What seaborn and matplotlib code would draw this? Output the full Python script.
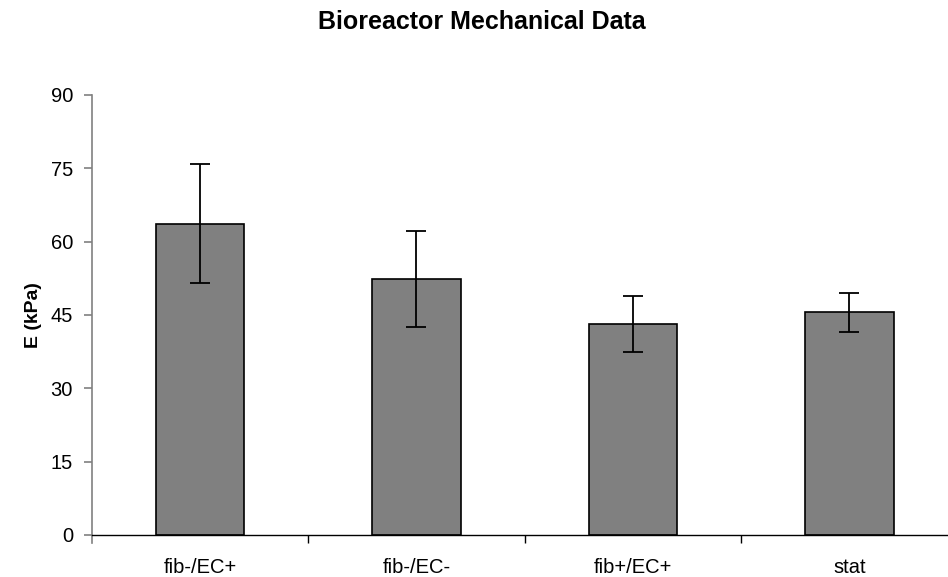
import matplotlib
matplotlib.use("Agg")
import matplotlib.pyplot as plt
import seaborn as sns
import pandas as pd
from matplotlib.ticker import FixedLocator

categories = ["fib-/EC+", "fib-/EC-", "fib+/EC+", "stat"]
means = [63.7, 52.4, 43.2, 45.6]
errors = [12.2, 9.8, 5.7, 4.0]
yticks = [0, 15, 30, 45, 60, 75, 90]

sns.set_theme(style="white")
plt.rcParams['font.family'] = ['Liberation Sans', 'DejaVu Sans']
plt.rcParams['text.color'] = 'black'

df = pd.DataFrame({"cat": categories, "E": means})

W, H = 948, 577
fig = plt.figure(figsize=(W / 100, H / 100), dpi=100)
ax = fig.add_axes([91.7 / W, (H - 535) / H, 866 / W, 440 / H])

sns.barplot(data=df, x="cat", y="E", ax=ax, color="#808080", saturation=1,
            width=0.407, edgecolor="black", linewidth=1.2, errorbar=None)
ax.errorbar(categories, means, yerr=errors, fmt="none", ecolor="black",
            elinewidth=1.3, capsize=7, capthick=1.3)

ax.set_xlim(-0.5, 3.5)
ax.set_ylim(0, 90)
ax.set_yticks(yticks)
ax.set_yticklabels([str(v) for v in yticks])

for s in ["top", "right"]:
    ax.spines[s].set_visible(False)
ax.spines["left"].set_color("#808080")
ax.spines["left"].set_linewidth(1.2)
ax.spines["bottom"].set_color("black")
ax.spines["bottom"].set_linewidth(1.0)
ax.spines["left"].set_bounds(-1.7, 90)

ax.tick_params(axis="y", which="major", direction="out", length=6, width=1.2,
               color="#808080", labelsize=14.5, pad=7.5, left=True, labelcolor="black")
ax.tick_params(axis="x", which="major", length=0, pad=16.5, labelsize=14.5, labelcolor="black")
ax.xaxis.set_minor_locator(FixedLocator([0.5, 1.5, 2.5]))
ax.tick_params(axis="x", which="minor", direction="out", length=5.5, width=1.0,
               color="black", bottom=True)

ax.set_xlabel("")
ax.set_ylabel("E (kPa)", fontsize=14, fontweight="bold", labelpad=6, color="black")
fig.suptitle("Bioreactor Mechanical Data", x=0.508, y=0.983, fontsize=18,
             fontweight="bold", va="top", color="black")
ax.grid(False)
fig.savefig("out.png", dpi=100, facecolor="white")
